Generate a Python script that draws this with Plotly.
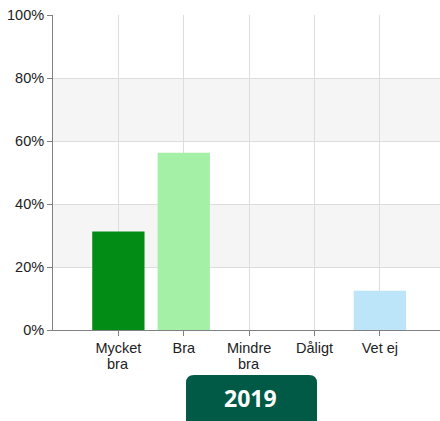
import plotly.graph_objects as go

cat_line1 = ["Mycket", "Bra", "Mindre", "Dåligt", "Vet ej"]
cat_line2 = ["bra", "", "bra", "", ""]
values = [31.25, 56.25, 0, 0, 12.5]
colors = ["#038C15", "#A3F0A6", "#F4B183", "#E57373", "#BDE5FA"]
y_ticks = [0, 20, 40, 60, 80, 100]
y_labels = ["0%", "20%", "40%", "60%", "80%", "100%"]
bands = [(20, 40), (60, 80)]
year_label = "2019"

xs = list(range(len(cat_line1)))
fig = go.Figure()
fig.add_trace(go.Bar(x=xs, y=values,
                     marker=dict(color=colors, line=dict(width=0)),
                     width=0.8, hoverinfo="skip"))

shapes = []
for lo, hi in bands:
    shapes.append(dict(type="rect", xref="paper", yref="y", x0=0, x1=1, y0=lo, y1=hi,
                       fillcolor="#F5F5F5", line=dict(width=0), layer="below"))

# rounded box for year label (paper coords)
x0, x1 = 0.3437, 0.6822
y1, y0 = -0.1429, -0.34
rx, ry = 0.0207, 0.0254
path = (f"M {x0+rx},{y1} L {x1-rx},{y1} Q {x1},{y1} {x1},{y1-ry} "
        f"L {x1},{y0+ry} Q {x1},{y0} {x1-rx},{y0} L {x0+rx},{y0} Q {x0},{y0} {x0},{y0+ry} "
        f"L {x0},{y1-ry} Q {x0},{y1} {x0+rx},{y1} Z")
shapes.append(dict(type="path", xref="paper", yref="paper", path=path,
                   fillcolor="#005A46", line=dict(width=0), layer="above"))

annotations = [dict(text=f"<b>{year_label}</b>", xref="paper", yref="paper",
                    x=0.5116, y=-0.216, showarrow=False,
                    font=dict(family="Open Sans", size=23, color="white"),
                    xanchor="center", yanchor="middle")]
for xv, t in zip(xs, cat_line2):
    if t:
        annotations.append(dict(text=t, xref="x", yref="paper", x=xv, y=-0.107,
                                showarrow=False, xanchor="center", yanchor="middle",
                                font=dict(family="Liberation Sans, Arial", size=14.5,
                                          color="#222222")))

fig.update_layout(
    width=440, height=421,
    margin=dict(l=53, r=0, t=15, b=91),
    paper_bgcolor="white", plot_bgcolor="white",
    showlegend=False,
    shapes=shapes,
    font=dict(family="Liberation Sans, Arial", size=14.5, color="#222222"),
    annotations=annotations,
)
fig.update_xaxes(
    range=[-1, 4.92],
    tickmode="array", tickvals=xs, ticktext=cat_line1,
    showgrid=True, gridcolor="#DDDDDD", gridwidth=1,
    showline=True, linecolor="#808080", linewidth=1,
    ticks="outside", ticklen=5, tickcolor="#808080",
    zeroline=False, fixedrange=True,
)
fig.update_yaxes(
    range=[0, 100],
    tickmode="array", tickvals=y_ticks, ticktext=y_labels,
    showgrid=True, gridcolor="#DDDDDD", gridwidth=1,
    showline=True, linecolor="#808080", linewidth=1,
    ticks="outside", ticklen=5, tickcolor="#808080",
    zeroline=False, fixedrange=True,
)
fig.write_html("out.html", config={"displayModeBar": False, "staticPlot": True},
               post_script="document.body.style.margin='0';document.body.style.overflow='hidden';")
